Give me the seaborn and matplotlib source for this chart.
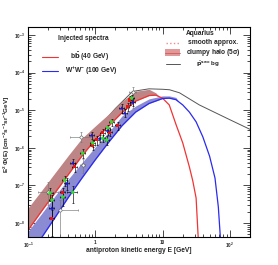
import numpy as np
import seaborn as sns
import matplotlib.pyplot as plt
from matplotlib.patches import Rectangle

# ---- model curves (E in GeV, E^2 Phi in cm^-2 s^-1 sr^-1 GeV) ----
bb_E = [0.1, 0.158, 0.251, 0.398, 0.631, 1.0, 1.585, 2.51, 3.98, 6.31, 7.94,
        10, 12.6, 15.8, 20, 25.1, 28.2, 31.6, 33.9, 36.3]
bb_F = [6.46e-9, 2.04e-8, 6.3e-8, 1.95e-7, 6.0e-7, 1.66e-6, 3.8e-6, 8.7e-6, 1.74e-5, 2.45e-5, 2.51e-5,
        2.09e-5, 1.38e-5, 4.27e-6, 1.35e-6, 3.1e-7, 1.32e-7, 4.6e-8, 4.3e-9, 3.2e-10]

bb_band_E = [0.1, 0.158, 0.251, 0.398, 0.631, 1.0, 1.585, 2.51, 3.98, 6.31, 7.94, 8.9]
bb_band_lo = [6.46e-9, 2.04e-8, 6.3e-8, 1.95e-7, 6.0e-7, 1.66e-6, 3.8e-6, 8.7e-6, 1.74e-5, 2.45e-5, 2.51e-5, 2.34e-5]
bb_band_hi = [2.5e-8, 7.2e-8, 2.14e-7, 6.3e-7, 1.78e-6, 3.8e-6, 7.9e-6, 1.74e-5, 3.2e-5, 3.6e-5, 2.9e-5, 2.34e-5]

ww_E = [0.1, 0.158, 0.251, 0.398, 0.631, 1.0, 1.585, 2.51, 3.98, 6.31, 10, 12.6,
        15.8, 20, 25.1, 31.6, 39.8, 50.1, 60.3, 67.6, 72.4, 77.6]
ww_F = [7.9e-10, 4.0e-9, 1.38e-8, 4.8e-8, 1.55e-7, 4.8e-7, 1.41e-6, 3.9e-6, 8.9e-6, 1.51e-5, 2.04e-5, 2.09e-5,
        1.91e-5, 1.38e-5, 8.9e-6, 4.9e-6, 1.95e-6, 6.0e-7, 1.58e-7, 2.7e-8, 4.3e-9, 3.2e-10]

ww_band_E = [0.1, 0.158, 0.251, 0.398, 0.631, 1.0, 1.585, 2.51, 3.98, 6.31, 10, 12.6, 15.8, 17.8]
ww_band_lo = [7.9e-10, 4.0e-9, 1.38e-8, 4.8e-8, 1.55e-7, 4.8e-7, 1.41e-6, 3.9e-6, 8.9e-6, 1.51e-5, 2.04e-5, 2.09e-5, 1.91e-5, 1.62e-5]
ww_band_hi = [6.0e-9, 1.74e-8, 5.2e-8, 1.48e-7, 4.0e-7, 1.05e-6, 2.63e-6, 7.1e-6, 1.29e-5, 2.0e-5, 2.4e-5, 2.4e-5, 2.19e-5, 1.62e-5]

bg_E = [0.1, 0.316, 1.0, 2.0, 3.6, 6.3, 10, 12.7, 17.9, 35.3, 100, 200]
bg_F = [1.41e-8, 2.8e-7, 2.8e-6, 1.12e-5, 3.16e-5, 3.7e-5, 3.6e-5, 3.5e-5, 2.9e-5, 1.38e-5, 5.6e-6, 3.1e-6]

# ---- measurements ----
red_E = [0.227, 0.330, 0.497, 0.918, 1.05, 1.29, 1.64, 2.15, 3.03, 3.24]
red_F = [1.35e-8, 6.6e-8, 3.1e-7, 1.18e-6, 1.62e-6, 2.5e-6, 2.6e-6, 4.0e-6, 1.23e-5, 1.87e-5]
red_Ferr = [9e-9, 2e-8, 8e-8, 3e-7, 4e-7, 6e-7, 6e-7, 1e-6, 3e-6, 5e-6]
red_Eerr = [0.02, 0.03, 0.04, 0.07, 0.08, 0.1, 0.12, 0.15, 0.2, 0.2]

blue_E = [0.227, 0.378, 0.464, 0.887, 1.17, 1.53, 2.47, 2.74, 3.59]
blue_F = [2.5e-8, 1.15e-7, 4.0e-7, 2.2e-6, 1.8e-6, 2.95e-6, 1.15e-5, 8.5e-6, 1.66e-5]
blue_Ferr = [2.2e-8, 4e-8, 1e-7, 5e-7, 4e-7, 7e-7, 3e-6, 2e-6, 4e-6]
blue_Eerr = [0.02, 0.03, 0.04, 0.07, 0.09, 0.12, 0.18, 0.2, 0.25]

green_E = [0.212, 0.227, 0.330, 0.353, 0.464, 0.653, 0.918, 1.29, 1.48, 1.53, 1.75, 3.48]
green_F = [6.3e-8, 4.1e-8, 4.9e-8, 1.38e-7, 6.6e-8, 7.2e-7, 1.35e-6, 1.8e-6, 1.62e-6, 3.4e-6, 4.9e-6, 2.1e-5]
green_Ferr = [2.5e-8, 1.5e-8, 2e-8, 4e-8, 3.2e-8, 2e-7, 3e-7, 4e-7, 4e-7, 7e-7, 1e-6, 4e-6]
green_Eerr = [0.02, 0.02, 0.03, 0.03, 0.08, 0.05, 0.07, 0.1, 0.1, 0.12, 0.13, 0.25]

open_E = [0.20, 0.30, 0.62, 0.653, 3.59]
open_F = [6.5e-8, 2.2e-8, 1.95e-6, 3.5e-7, 3.0e-5]
open_Elo = [0.14, 0.30, 0.42, 0.60, 3.2]
open_Ehi = [0.28, 0.55, 0.89, 0.71, 4.1]
open_Flo = [3.0e-8, 1e-9, 1.4e-6, 2.2e-7, 1.15e-5]
open_Fhi = [1.2e-7, 4.0e-8, 2.7e-6, 5e-7, 4.2e-5]

xtick_vals = [0.1, 1, 10, 100]
xtick_labels = ['10$^{-1}$', '1', '10', '10$^{2}$']
ytick_vals = [1e-8, 1e-7, 1e-6, 1e-5, 1e-4, 1e-3]
ytick_labels = ['10$^{-8}$', '10$^{-7}$', '10$^{-6}$', '10$^{-5}$', '10$^{-4}$', '10$^{-3}$']

sns.set_style("ticks")
plt.rcParams['font.family'] = ['Liberation Sans', 'DejaVu Sans']
plt.rcParams['font.weight'] = 'bold'
plt.rcParams['mathtext.default'] = 'regular'

fig = plt.figure(figsize=(2.78, 2.65), dpi=100)
ax = fig.add_axes([28 / 278, 28 / 265, 222 / 278, 210 / 265])
ax.set_xscale('log')
ax.set_yscale('log')

RED = '#f03434'
BLUE = '#2a2af0'
BROWN = '#bd8585'
LAV = '#8b8bd3'

sns.lineplot(x=bg_E, y=bg_F, ax=ax, color='#555555', lw=0.7, sort=False, estimator=None, zorder=0.5)
ax.fill_between(bb_band_E, bb_band_lo, bb_band_hi, color=BROWN, lw=0, zorder=1)
ax.fill_between(ww_band_E, ww_band_lo, ww_band_hi, color=LAV, lw=0, zorder=1)
sns.lineplot(x=bb_E, y=bb_F, ax=ax, color=RED, lw=0.9, sort=False, estimator=None, zorder=2)
sns.lineplot(x=ww_E, y=ww_F, ax=ax, color=BLUE, lw=0.9, sort=False, estimator=None, zorder=2)

eb = dict(fmt='none', ecolor='black', elinewidth=0.45, capsize=0.8, capthick=0.45, zorder=3)
ax.errorbar(open_E, open_F,
            xerr=[np.subtract(open_E, open_Elo), np.subtract(open_Ehi, open_E)],
            yerr=[np.subtract(open_F, open_Flo), np.subtract(open_Fhi, open_F)],
            **{**eb, 'ecolor': '#777777'})
ax.errorbar(red_E, red_F, xerr=red_Eerr, yerr=red_Ferr, **eb)
ax.errorbar(blue_E, blue_F, xerr=blue_Eerr, yerr=blue_Ferr, **eb)
ax.errorbar(green_E, green_F, xerr=green_Eerr, yerr=green_Ferr, **eb)

sns.scatterplot(x=open_E, y=open_F, ax=ax, marker='o', s=5, color='white', edgecolor='#555555', linewidth=0.4, zorder=4)
sns.scatterplot(x=red_E, y=red_F, ax=ax, marker='s', s=5, color='#ee1111', edgecolor='none', zorder=4)
sns.scatterplot(x=blue_E, y=blue_F, ax=ax, marker='^', s=6, color='#1515ee', edgecolor='none', zorder=4)
sns.scatterplot(x=green_E, y=green_F, ax=ax, marker='o', s=6, color='#2de02d', edgecolor='none', zorder=4)

ax.set_xlim(0.1, 200)
ax.set_ylim(4.25e-9, 1.63e-3)
ax.set_xticks(xtick_vals)
ax.set_xticklabels(xtick_labels)
ax.set_yticks(ytick_vals)
ax.set_yticklabels(ytick_labels)
ax.tick_params(which='both', direction='in', top=True, right=True, labelsize=3.3, width=0.5, color='black')
ax.tick_params(which='major', length=5, pad=2.5)
ax.tick_params(which='minor', length=2.5)
ax.tick_params(axis='y', pad=2.5)
for s in ax.spines.values():
    s.set_linewidth(0.8)
    s.set_color('black')

ax.set_xlabel('antiproton kinetic energy E [GeV]', fontsize=4.8, fontweight='bold')
ax.set_ylabel(r'E$^{2}$ $\Phi$(E) [cm$^{-2}$s$^{-1}$sr$^{-1}$GeV]', fontsize=4.6, fontweight='bold')
ax.xaxis.set_label_coords(0.5, -0.05)
ax.yaxis.set_label_coords(-0.072, 0.49)

# legend blocks
T = ax.transAxes
tk = dict(transform=T, fontsize=4.8, fontweight='bold', ha='center', va='center')
ax.text(0.248, 0.943, 'Injected spectra', **tk)
ax.plot([0.063, 0.135], [0.857, 0.857], color=RED, lw=0.8, transform=T)
ax.text(0.279, 0.857, r'b$\bar{\rm b}$ (40 GeV)', **tk)
ax.plot([0.063, 0.135], [0.790, 0.790], color=BLUE, lw=0.8, transform=T)
ax.text(0.286, 0.790, r'W$^{+}$W$^{-}$ (100 GeV)', **tk)

ax.text(0.775, 0.971, 'Aquarius', **tk)
ax.plot([0.622, 0.685], [0.924, 0.924], color='#f08a8a', lw=1.0, ls=':', transform=T)
ax.text(0.833, 0.924, 'smooth approx.', **tk)
ax.add_patch(Rectangle((0.618, 0.862), 0.067, 0.031, transform=T, fc='#e09898', ec='none'))
ax.plot([0.618, 0.685], [0.877, 0.877], color='#d05a5a', lw=0.6, transform=T)
ax.text(0.836, 0.878, r'clumpy halo (5$\sigma$)', **tk)
ax.plot([0.622, 0.685], [0.826, 0.826], color='#555555', lw=0.7, transform=T)
ax.text(0.81, 0.824, r'$\bar{\rm p}^{\rm sec}$ bg', transform=T, fontsize=4.5,
        fontweight='bold', ha='center', va='center')

fig.savefig('out.png', dpi=100)
